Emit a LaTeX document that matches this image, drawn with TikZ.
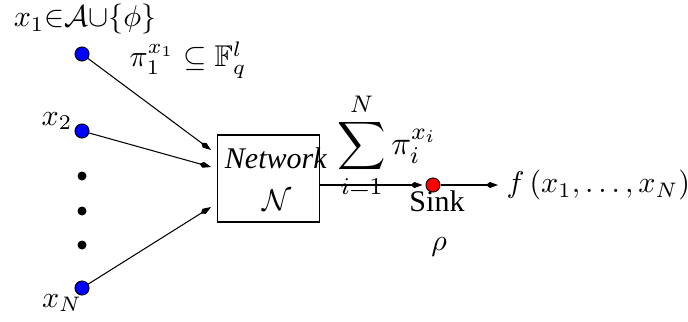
\documentclass[tikz,border=0pt]{standalone}
\usepackage{amsmath,amssymb}
\usepackage[no-math]{fontspec}
\setmainfont{Liberation Serif}
\usetikzlibrary{arrows.meta,positioning,calc}

\begin{document}
\begin{tikzpicture}[
  x=0.3333pt,y=0.3333pt,>={Kite[length=4pt,width=2pt,inset=1.3pt]},
  src/.style={circle,draw=black,fill=blue,inner sep=0pt,minimum size=4.7pt,line width=0.3pt},
  gap/.style={circle,fill=black,inner sep=0pt,minimum size=3pt},
  sinkdot/.style={circle,draw=black,fill=red,inner sep=0pt,minimum size=4.7pt,line width=0.3pt},
  netbox/.style={draw=black,line width=0.35pt,inner sep=0pt,minimum width=34.3pt,minimum height=29pt},
  lbl/.style={inner sep=0pt},
  link/.style={->,line width=0.35pt},
]
\useasboundingbox (0,0) rectangle (688,-321);
% ---- sources --------------------------------------------------------------
\node[src] (x1) at (82,-54) {};
\node[src] (x2) at (82,-131) {};
\node[gap] (d1) at (82,-176) {};
\node[gap] (d2) at (82,-211) {};
\node[gap] (d3) at (82,-245) {};
\node[src] (xN) at (82,-288) {};
\node[lbl] (lx1) at (85,-19) {$x_1{\in}\mathcal{A}{\cup}\{\phi\}$};
\node[lbl] (lpi) at (188,-60) {$\pi_1^{x_1}\subseteq\mathbb{F}_q^l$};
\node[lbl] (lx2) at (57,-121) {$x_2$};
\node[lbl] (lxN) at (62,-303) {$x_N$};

% ---- network --------------------------------------------------------------
\node[netbox] (net) at (268.5,-178.5) {};
\node[lbl] (netname) at (276,-158) {\textit{Network}};
\node[lbl] (netsym) at (277,-200) {$\mathcal{N}$};
\coordinate (in1) at (211,-150);
\coordinate (in2) at (211,-167);
\coordinate (inN) at (211,-207);
\draw[link] (x1) -- (in1);
\draw[link] (x2) -- (in2);
\draw[link] (xN) -- (inN);

% ---- sink -----------------------------------------------------------------
\coordinate (out) at (320,-185);
\node[sinkdot] (sink) at (433,-185) {};
\coordinate (fout) at (498,-185);
\draw[link,shorten >=1pt] (out) -- (sink);
\draw[link] (sink) -- (fout);
\node[lbl,font=\fontsize{11.2pt}{13pt}\selectfont] (sum) at (387,-145)
  {$\displaystyle\sum_{i=1}^{N}\pi_i^{x_i}$};
\node[lbl] (sinkname) at (437,-201) {Sink};
\node[lbl] (rho) at (439,-247) {$\rho$};
\node[lbl,anchor=west] (fval) at (506,-185) {$f\left(x_1,\ldots,x_N\right)$};
\end{tikzpicture}
\end{document}
